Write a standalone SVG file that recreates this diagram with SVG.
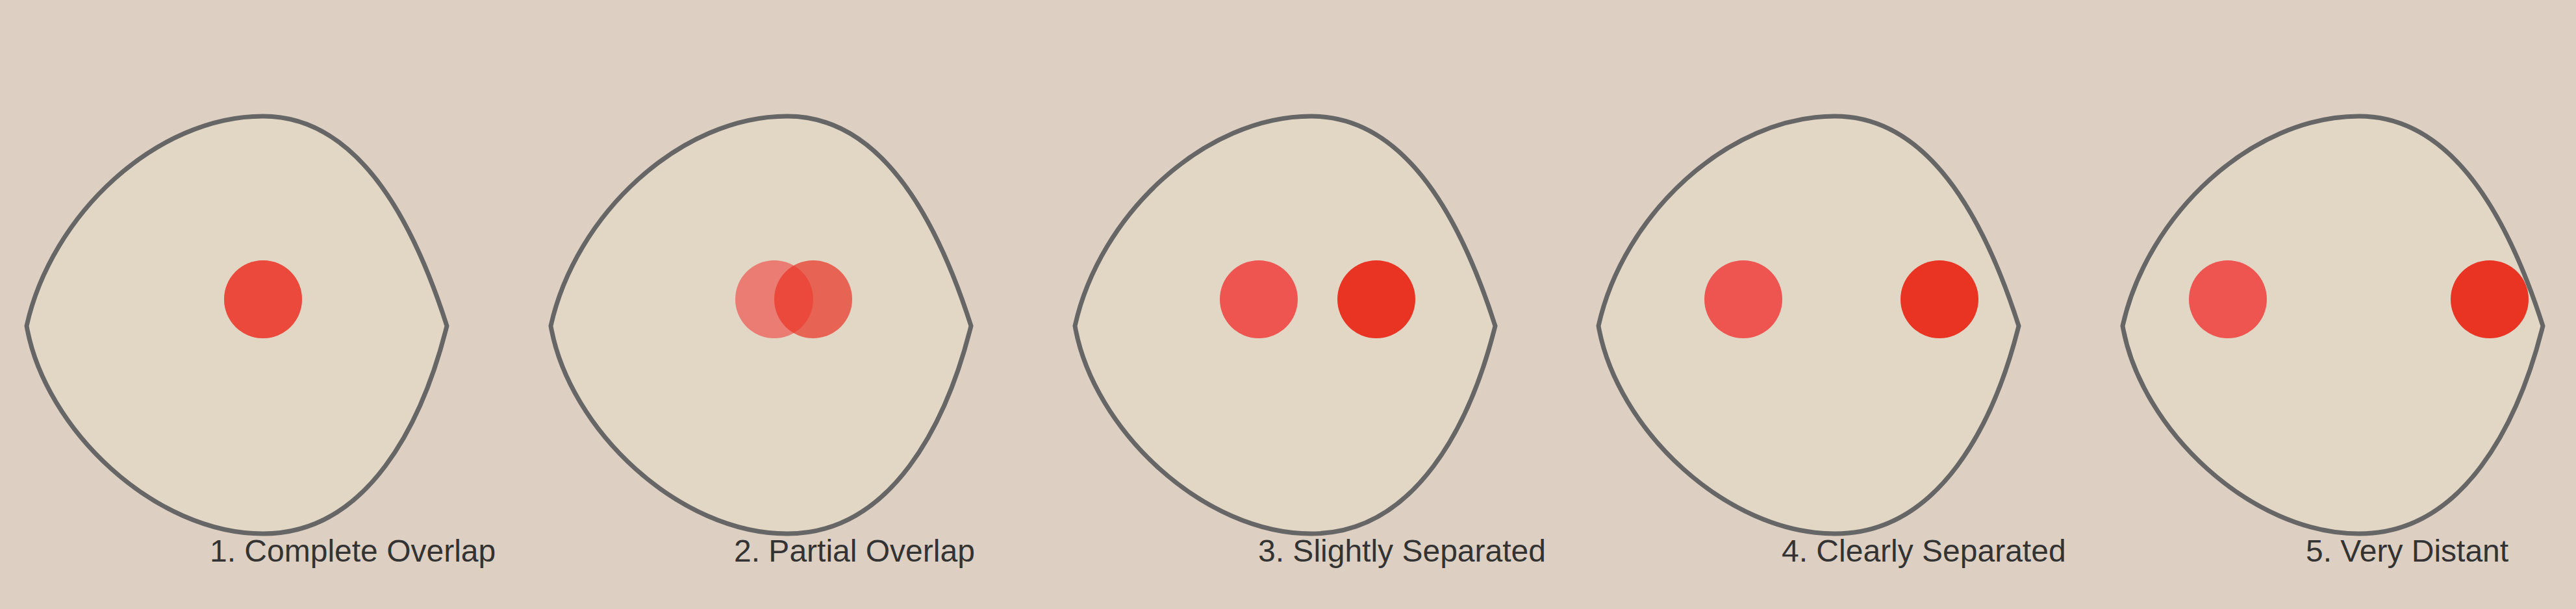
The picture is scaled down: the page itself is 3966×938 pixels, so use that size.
<svg xmlns="http://www.w3.org/2000/svg" width="3966" height="938" viewBox="0 0 3966 938">
<defs>
<style>
.bg{fill:#ddd0c2}
.shape{fill:#e2d6c5;stroke:#666666;stroke-width:7;stroke-linejoin:miter}
.a{fill:#ee5550}
.b{fill:#e93323}
.faint{opacity:0.7}
.lbl{font-family:"Liberation Sans",Arial,sans-serif;font-size:48px;fill:#333333}
</style>
<path id="outline" d="M 0,502 C 38,330 200,179 364,179 C 516,179 600,355 647,502 C 610,650 526,822 364,822 C 198,822 28,662 0,502 Z"/>
</defs>
<rect class="bg" x="0" y="0" width="3966" height="938"/>
<g id="node1" transform="translate(41,0)">
<use href="#outline" class="shape"/>
<circle class="a faint" cx="364" cy="461" r="60"/>
<circle class="b faint" cx="364" cy="461" r="60"/>
<text class="lbl" x="282" y="865">1. Complete Overlap</text>
</g>
<g id="node2" transform="translate(848,0)">
<use href="#outline" class="shape"/>
<circle class="a faint" cx="344" cy="461" r="60"/>
<circle class="b faint" cx="404" cy="461" r="60"/>
<text class="lbl" x="282" y="865">2. Partial Overlap</text>
</g>
<g id="node3" transform="translate(1655,0)">
<use href="#outline" class="shape"/>
<circle class="a" cx="283" cy="461" r="60"/>
<circle class="b" cx="464" cy="461" r="60"/>
<text class="lbl" x="282" y="865">3. Slightly Separated</text>
</g>
<g id="node4" transform="translate(2461,0)">
<use href="#outline" class="shape"/>
<circle class="a" cx="223" cy="461" r="60"/>
<circle class="b" cx="525" cy="461" r="60"/>
<text class="lbl" x="282" y="865">4. Clearly Separated</text>
</g>
<g id="node5" transform="translate(3268,0)">
<use href="#outline" class="shape"/>
<circle class="a" cx="162" cy="461" r="60"/>
<circle class="b" cx="565" cy="461" r="60"/>
<text class="lbl" x="282" y="865">5. Very Distant</text>
</g>
<g id="connectors"/>
</svg>
